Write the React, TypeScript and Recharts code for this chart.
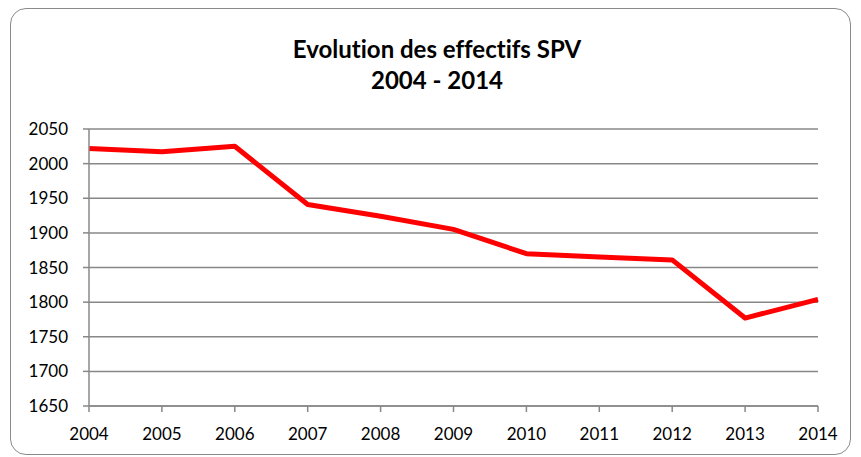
import { LineChart, Line, XAxis, YAxis, CartesianGrid } from 'recharts';

const years = ['2004', '2005', '2006', '2007', '2008', '2009', '2010', '2011', '2012', '2013', '2014'];
const effectifs = [2022, 2017, 2025, 1941, 1924, 1905, 1870, 1865, 1861, 1777, 1804];
const yTicks = [1650, 1700, 1750, 1800, 1850, 1900, 1950, 2000, 2050];

const data = years.map((year, i) => ({ year, value: effectifs[i] }));

const font = 'Lato, "Open Sans", sans-serif';

export default function App() {
  return (
    <div style={{ position: 'absolute', left: 0, top: 0, width: 861, height: 457, background: '#fff', fontFamily: font }}>
      <div
        style={{
          position: 'absolute',
          left: 10,
          top: 8,
          width: 841,
          height: 447,
          boxSizing: 'border-box',
          border: '1.5px solid #8a8a8a',
          borderRadius: 16,
        }}
      />
      <div
        style={{
          position: 'absolute',
          left: 0,
          top: 33,
          width: 874,
          textAlign: 'center',
          fontWeight: 'bold',
          fontSize: 24,
          lineHeight: '31px',
          color: '#000',
          fontVariantLigatures: 'none',
        }}
      >
        <div>Evolution des effectifs SPV</div>
        <div>2004 - 2014</div>
      </div>
      <div style={{ position: 'absolute', left: 0, top: 0 }}>
        <LineChart width={861} height={457} data={data} margin={{ top: 129, right: 43, left: 0, bottom: 0 }}>
          <CartesianGrid vertical={false} stroke="#888" strokeWidth={1.5} />
          <XAxis
            dataKey="year"
            height={51}
            tickSize={6}
            tickMargin={16}
            stroke="#888"
            strokeWidth={1.5}
            tick={{ fill: '#000', fontSize: 17, fontFamily: font }}
            interval={0}
          />
          <YAxis
            width={89}
            domain={[1650, 2050]}
            ticks={yTicks}
            tickSize={6}
            tickMargin={15}
            stroke="#888"
            strokeWidth={1.5}
            tick={{ fill: '#000', fontSize: 17, fontFamily: font }}
            interval={0}
          />
          <Line
            type="linear"
            dataKey="value"
            stroke="#ff0000"
            strokeWidth={5}
            dot={false}
            strokeLinejoin="round"
            isAnimationActive={false}
          />
        </LineChart>
      </div>
    </div>
  );
}
